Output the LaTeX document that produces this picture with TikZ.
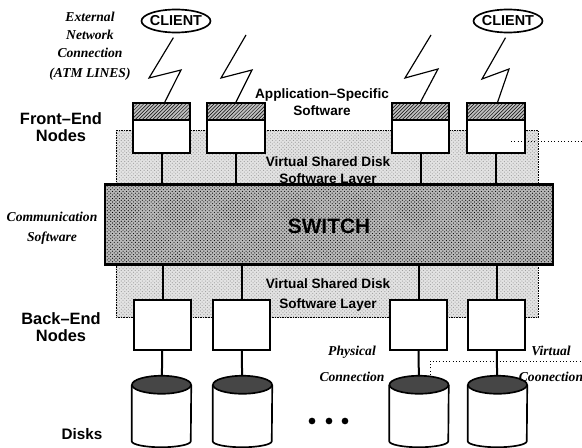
\documentclass[tikz,border=0pt]{standalone}
\usepackage{fontspec}
\setmainfont{Liberation Sans}
\newfontfamily\notefont{Liberation Serif}
\usetikzlibrary{patterns,shapes.geometric}

\newcommand{\drawdisk}[1]{%
  \draw[diskline, fill=white] ([yshift=-0.27cm]#1.north west) -- ([yshift=0.18cm]#1.south west)
    arc[start angle=180, end angle=360, x radius=0.885cm, y radius=0.18cm]
    -- ([yshift=-0.27cm]#1.north east);
  \draw[diskline, fill=gray!55!black] ([yshift=-0.27cm]#1.north) ellipse [x radius=0.885cm, y radius=0.27cm];
}

\begin{document}
\begin{tikzpicture}[
    x=0.03cm, y=-0.03cm,
    nodebox/.style={draw, line width=0.06cm, fill=white, minimum width=1.72cm, minimum height=1.5cm, inner sep=0},
    hatchcap/.style={draw, line width=0.06cm, minimum width=1.72cm, minimum height=0.5cm, inner sep=0, preaction={fill=gray!50}, pattern=north east lines, anchor=north},
    softlayer/.style={draw, densely dotted, minimum width=12.66cm, minimum height=1.6cm, inner sep=0, preaction={fill=gray!22}, pattern=crosshatch dots, pattern color=gray!75},
    switchbox/.style={draw, line width=0.07cm, minimum width=13.44cm, minimum height=2.4cm, inner sep=0, preaction={fill=gray!55}, pattern=crosshatch dots, pattern color=black},
    disk/.style={minimum width=1.77cm, minimum height=2.13cm, inner sep=0},
    diskline/.style={line width=0.05cm},
    client/.style={draw, line width=0.05cm, ellipse, minimum width=2.07cm, minimum height=0.69cm, inner ysep=0, inner xsep=-0.05cm, font=\fontsize{12.3}{14}\selectfont\bfseries},
    biglabel/.style={align=center, inner sep=0, font=\fontsize{14}{14}\selectfont\bfseries},
    layerlabel/.style={align=center, inner sep=0, font=\fontsize{11.6}{14}\selectfont\bfseries},
    note/.style={align=center, inner sep=0, font=\notefont\fontsize{11.6}{15.4}\selectfont\bfseries\itshape},
    wideNote/.style={note, font=\notefont\fontsize{11.6}{22}\selectfont\bfseries\itshape},
    link/.style={line width=0.06cm},
    zigzag/.style={line width=0.035cm},
    dotsline/.style={dotted, line width=0.03cm},
    morenode/.style={circle, fill, minimum size=0.2cm, inner sep=0}
  ]
    \useasboundingbox (0,0) rectangle (582,448);

    % shared disk layers and switch
    \node[softlayer] (upperlayer) at (327,157) {};
    \node[softlayer] (lowerlayer) at (327,291) {};
    \node[layerlabel] (upperlabel) at (328,171) {Virtual Shared Disk\\[0.5pt] Software Layer};
    \node[switchbox] (switch) at (329,224.5) {};
    \node[font=\fontsize{17.8}{20}\selectfont\bfseries, inner sep=0] (switchname) at (329,226) {SWITCH};

    % front-end nodes
    \node[nodebox] (front1) at (161.5,128) {};
    \node[nodebox] (front2) at (236,128) {};
    \node[nodebox] (front3) at (420.5,128) {};
    \node[nodebox] (front4) at (496,128) {};
    \node[hatchcap] (cap1) at (front1.north) {};
    \node[hatchcap] (cap2) at (front2.north) {};
    \node[hatchcap] (cap3) at (front3.north) {};
    \node[hatchcap] (cap4) at (front4.north) {};

    % back-end nodes
    \node[nodebox] (back1) at (162.5,325) {};
    \node[nodebox] (back2) at (241.5,325) {};
    \node[nodebox] (back3) at (418.5,325) {};
    \node[nodebox] (back4) at (496.5,325) {};

    % disks
    \node[disk] (disk1) at (161.5,411.5) {};
    \node[disk] (disk2) at (242.5,411.5) {};
    \node[disk] (disk3) at (419,411.5) {};
    \node[disk] (disk4) at (497.5,411.5) {};
    \drawdisk{disk1}
    \drawdisk{disk2}
    \drawdisk{disk3}
    \drawdisk{disk4}

    \draw[link] (front1) -- (front1 |- switch.north);
    \draw[link] (front2) -- (front2 |- switch.north);
    \draw[link] (front3) -- (front3 |- switch.north);
    \draw[link] (front4) -- (front4 |- switch.north);
    \draw[link] (back1 |- switch.south) -- (back1);
    \draw[link] (back2 |- switch.south) -- (back2);
    \draw[link] (back3 |- switch.south) -- (back3);
    \draw[link] (back4 |- switch.south) -- (back4);
    \draw[link] (back1) -- (disk1);
    \draw[link] (back2) -- (disk2);
    \draw[link] (back3) -- (disk3);
    \draw[link] (back4) -- (disk4);

    % clients and network lines
    \node[client] (client1) at (176,21) {CLIENT};
    \node[client] (client2) at (508,21) {CLIENT};
    \coordinate (free2) at (246,35);
    \coordinate (free3) at (431,35);
    \draw[zigzag, shorten <=0.15cm] (client1.south) -- (149,78) -- (181,70) -- ([xshift=0.1cm]front1.north);
    \draw[zigzag] (free2) -- (221,78) -- (252,70) -- (front2.north);
    \draw[zigzag] (free3) -- (405,78) -- (438,69) -- (front3.north);
    \draw[zigzag, shorten <=0.15cm] (client2.south) -- (482,79) -- (509,69) -- ([xshift=0.05cm]front4.north);

    % virtual connection lines
    \coordinate (frontdot) at (511,141);
    \coordinate (frontend) at (582,141);
    \coordinate (diskdot) at (430,375);
    \coordinate (diskbend) at (430,361);
    \coordinate (diskend) at (582,361);
    \draw[dotsline] (frontdot) -- (frontend);
    \draw[dotsline] (diskdot) -- (diskbend) -- (diskend);

    \node[morenode] (more1) at (312,421) {};
    \node[morenode] (more2) at (329,421) {};
    \node[morenode] (more3) at (345,421) {};

    % labels
    \node[note] (external) at (90,46) {External\\ Network\\ Connection\\[2pt] (ATM LINES)};
    \node[biglabel] (frontname) at (61,127) {Front–End\\ Nodes};
    \node[biglabel] (backname) at (61,327) {Back–End\\ Nodes};
    \node[biglabel, font=\fontsize{13}{14}\selectfont\bfseries] (disksname) at (82,434) {Disks};
    \node[note] (commname) at (52,228) {Communication\\[2pt] Software};
    \node[layerlabel] (appname) at (322,102) {Application–Specific\\ Software};
    \node[layerlabel] (lowerlabel) at (328,295) {Virtual Shared Disk\\[3pt] Software Layer};
    \node[wideNote] (physical) at (352,364) {Physical\\ Connection};
    \node[wideNote] (virtual) at (551,364) {Virtual\\ Coonection};
\end{tikzpicture}
\end{document}
